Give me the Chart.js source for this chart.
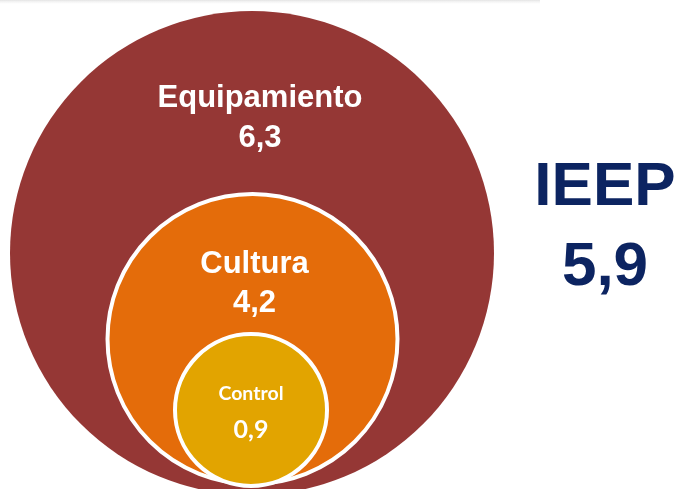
<!DOCTYPE html>
<html>
<head>
<meta charset="utf-8">
<script src="https://cdn.jsdelivr.net/npm/chart.js@4"></script>
<style>
  body { margin: 0; background: #fff; }
  #wrap { width: 679px; height: 489px; position: relative; }
</style>
</head>
<body>
<div id="wrap"><canvas id="myChart"></canvas></div>
<script>
// data
let categories = ['Equipamiento', 'Cultura', 'Control'];
let values = [6.3, 4.2, 0.9];
let indexLabel = 'IEEP';
let indexValue = 5.9;

// layout of the nested circles (in pixel-like scale units)
let rings = [
  { cx: 252, cy: 253, r: 242, bw: 0 },
  { cx: 252.5, cy: 339, r: 145, bw: 4 },
  { cx: 251, cy: 410, r: 76, bw: 4 }
];
let colors = ['#953735', '#E46C0A', '#E2A400'];

// where the two text lines sit, relative to each circle centre
let textPos = [
  { dx: 8, name: -146, value: -106, font1: 'bold 31px "Liberation Sans", Arial', font2: 'bold 31px "Liberation Sans", Arial' },
  { dx: 2, name: -66, value: -27, font1: 'bold 31px "Liberation Sans", Arial', font2: 'bold 31px "Liberation Sans", Arial' },
  { dx: 0, name: -10, value: 28, font1: 'bold 19.5px Lato', font2: 'bold 25px Lato' }
];

function fmt(v) {
  return v.toFixed(1).replace('.', ',');
}

let pts = [];
for (let i = 0; i < categories.length; i++) {
  pts.push({ x: rings[i].cx, y: rings[i].cy, r: rings[i].r });
}

let labelPlugin = {
  id: 'labels',
  beforeDraw(chart) {
    let c = chart.ctx;
    let g = c.createLinearGradient(0, 0, 0, 5);
    g.addColorStop(0, '#e4e4e4');
    g.addColorStop(1, 'rgba(255,255,255,0)');
    c.save();
    c.fillStyle = g;
    c.fillRect(0, 0, 540, 5);
    c.restore();
  },
  afterDatasetsDraw(chart) {
    let c = chart.ctx;
    let meta = chart.getDatasetMeta(0);
    c.save();
    c.fillStyle = '#fff';
    c.textAlign = 'center';
    c.textBaseline = 'alphabetic';
    for (let i = 0; i < meta.data.length; i++) {
      let el = meta.data[i];
      let t = textPos[i];
      c.font = t.font1;
      c.fillText(categories[i], el.x + t.dx, el.y + t.name);
      c.font = t.font2;
      c.fillText(fmt(values[i]), el.x + t.dx, el.y + t.value);
    }
    c.fillStyle = '#0c2461';
    c.font = 'bold 62px "Liberation Sans", Arial';
    c.fillText(indexLabel, 605, 205);
    c.fillText(fmt(indexValue), 605, 285);
    c.restore();
  }
};

let ctx = document.getElementById('myChart').getContext('2d');
let myChart = new Chart(ctx, {
  type: 'bubble',
  data: {
    labels: categories,
    datasets: [{
      data: pts,
      backgroundColor: colors,
      borderColor: '#ffffff',
      borderWidth: rings.map(r => r.bw),
      clip: false
    }]
  },
  options: {
    responsive: true,
    maintainAspectRatio: false,
    animation: false,
    events: [],
    layout: { padding: 0, autoPadding: false },
    plugins: {
      legend: { display: false },
      tooltip: { enabled: false }
    },
    scales: {
      x: { type: 'linear', min: 0, max: 679, display: false },
      y: { type: 'linear', min: 0, max: 489, reverse: true, display: false }
    }
  },
  plugins: [labelPlugin]
});
</script>
</body>
</html>
